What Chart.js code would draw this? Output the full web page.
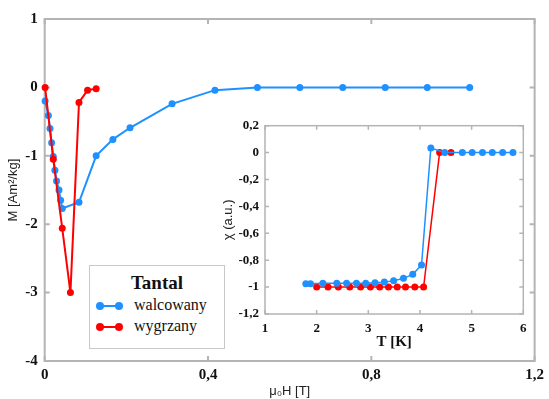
<!DOCTYPE html>
<html>
<head>
<meta charset="utf-8">
<script src="https://cdn.jsdelivr.net/npm/chart.js@4.4.1/dist/chart.umd.min.js"></script>
<style>
    html, body { margin: 0; padding: 0; background: #fff; }
    #wrap { position: relative; width: 549px; height: 399px; }
    #mainChart { position: absolute; left: 0; top: 0; }
    #insetChart { position: absolute; left: 215px; top: 110px; }
    #legend {
        position: absolute; left: 89px; top: 265px; width: 134px; height: 82px;
        border: 1.5px solid #c8c8c8; background: #fff;
        font-family: "Liberation Serif", serif; color: #111;
    }
    #legend .title { text-align: center; font-weight: bold; font-size: 19px; margin-top: 6px; height: 24px; }
    #legend .item { position: relative; height: 21px; font-size: 16px; }
    #legend .item span.txt { position: absolute; left: 44px; top: 0; }
    #legend .mk { position: absolute; left: 10px; top: 9px; width: 19px; height: 2px; }
    #legend .mk::before, #legend .mk::after {
        content: ""; position: absolute; top: -3px; width: 8px; height: 8px; border-radius: 50%; background: inherit;
    }
    #legend .mk::before { left: -4px; }
    #legend .mk::after { right: -4px; }
</style>
</head>
<body>
<div id="wrap">
    <canvas id="mainChart" width="549" height="399"></canvas>
    <canvas id="insetChart" width="320" height="245"></canvas>
    <div id="legend">
        <div class="title">Tantal</div>
        <div class="item"><div class="mk" style="background:#1e90ff"></div><span class="txt">walcowany</span></div>
        <div class="item"><div class="mk" style="background:#ff0000"></div><span class="txt">wygrzany</span></div>
    </div>
</div>
<script>
// Main plot: M(μ0H)
const walcH = [0.001, 0.009, 0.013, 0.017, 0.021, 0.025, 0.029, 0.035, 0.039, 0.043, 0.084, 0.126, 0.167, 0.209, 0.312, 0.417, 0.521, 0.625, 0.730, 0.834, 0.937, 1.041];
const walcM = [-0.2, -0.41, -0.60, -0.81, -1.01, -1.21, -1.37, -1.50, -1.65, -1.77, -1.68, -1.0, -0.76, -0.59, -0.24, -0.04, 0, 0, 0, 0, 0, 0];
const wygrH = [0.001, 0.021, 0.043, 0.063, 0.084, 0.105, 0.126];
const wygrM = [0, -1.05, -2.06, -3.0, -0.22, -0.04, -0.02];

// Inset: chi(T)
const walcT = [1.79, 1.88, 2.12, 2.39, 2.58, 2.77, 2.95, 3.13, 3.31, 3.49, 3.68, 3.86, 4.03, 4.21, 4.48, 4.82, 5.01, 5.21, 5.40, 5.60, 5.80];
const walcChi = [-0.975, -0.975, -0.972, -0.972, -0.972, -0.972, -0.972, -0.968, -0.963, -0.953, -0.935, -0.905, -0.836, 0.034, 0, 0, 0, 0, 0, 0, 0];
const wygrT = [2.0, 2.22, 2.42, 2.64, 2.85, 3.04, 3.22, 3.39, 3.56, 3.72, 3.90, 4.07, 4.38, 4.60];
const wygrChi = [-1, -1, -1, -1, -1, -1, -1, -1, -1, -1, -1, -1, 0, 0];

// Tick labels
const mainXLabels = ['0', '0,4', '0,8', '1,2'];
const mainYLabels = ['-4', '-3', '-2', '-1', '0', '1'];
const insetXLabels = ['1', '2', '3', '4', '5', '6'];
const insetYLabels = ['-1,2', '-1', '-0,8', '-0,6', '-0,4', '-0,2', '0', '0,2'];

const BLUE = '#1e90ff';
const RED = '#ff0000';

function toPoints(xs, ys) {
    return xs.map((x, i) => ({ x: x, y: ys[i] }));
}

// gray frame with inward ticks on all four sides
const framePlugin = {
    id: 'frame',
    beforeDatasetsDraw(chart, args, opts) {
        const { ctx, chartArea: a, scales: { x, y } } = chart;
        ctx.save();
        ctx.strokeStyle = opts.color;
        ctx.lineWidth = opts.width;
        ctx.strokeRect(a.left, a.top, a.right - a.left, a.bottom - a.top);
        ctx.beginPath();
        x.ticks.forEach(t => {
            const px = x.getPixelForValue(t.value);
            ctx.moveTo(px, a.bottom); ctx.lineTo(px, a.bottom - opts.len);
            ctx.moveTo(px, a.top); ctx.lineTo(px, a.top + opts.len);
        });
        y.ticks.forEach(t => {
            const py = y.getPixelForValue(t.value);
            ctx.moveTo(a.left, py); ctx.lineTo(a.left + opts.len, py);
            ctx.moveTo(a.right, py); ctx.lineTo(a.right - opts.len, py);
        });
        ctx.stroke();
        ctx.restore();
    }
};

const tickFont = (size) => ({ family: '"Liberation Serif", serif', weight: 'bold', size: size });
const titleFont = { family: '"Liberation Sans", Arial, sans-serif', size: 13 };

new Chart(document.getElementById('mainChart'), {
    type: 'scatter',
    data: {
        datasets: [
            {
                label: 'walcowany',
                data: toPoints(walcH, walcM),
                showLine: true,
                borderColor: BLUE, backgroundColor: BLUE,
                borderWidth: 2, pointRadius: 3.5, pointBorderWidth: 0,
                order: 1, clip: false
            },
            {
                label: 'wygrzany',
                data: toPoints(wygrH, wygrM),
                showLine: true,
                borderColor: RED, backgroundColor: RED,
                borderWidth: 2, pointRadius: 3.5, pointBorderWidth: 0,
                order: 0, clip: false
            }
        ]
    },
    options: {
        responsive: false,
        animation: false,
        layout: { padding: { top: 19, right: 11, left: 0, bottom: 0 } },
        plugins: {
            legend: { display: false },
            tooltip: { enabled: false },
            frame: { color: '#b4b4b4', width: 2, len: 5 }
        },
        scales: {
            x: {
                type: 'linear', min: 0, max: 1.2,
                grid: { display: false, drawTicks: false },
                border: { display: false },
                ticks: { stepSize: 0.4, padding: 5, color: '#111', font: tickFont(15),
                         callback: (v, i) => mainXLabels[i] },
                title: { display: true, text: 'μ₀H [T]', color: '#222', font: titleFont, padding: { top: 0, bottom: 0 } },
                afterFit: (s) => { s.height = 38; }
            },
            y: {
                type: 'linear', min: -4, max: 1,
                grid: { display: false, drawTicks: false },
                border: { display: false },
                ticks: { stepSize: 1, padding: 7, color: '#111', font: tickFont(15),
                         callback: (v, i) => mainYLabels[i] },
                title: { display: true, text: 'M [Am²/kg]', color: '#222', font: titleFont, padding: { top: 6, bottom: 0 } },
                afterFit: (s) => { s.width = 44.7; }
            }
        }
    },
    plugins: [framePlugin]
});

new Chart(document.getElementById('insetChart'), {
    type: 'scatter',
    data: {
        datasets: [
            {
                label: 'walcowany',
                data: toPoints(walcT, walcChi),
                showLine: true,
                borderColor: BLUE, backgroundColor: BLUE,
                borderWidth: 1.5, pointRadius: 3.5, pointBorderWidth: 0,
                order: 0, clip: false
            },
            {
                label: 'wygrzany',
                data: toPoints(wygrT, wygrChi),
                showLine: true,
                borderColor: RED, backgroundColor: RED,
                borderWidth: 1.5, pointRadius: 3.5, pointBorderWidth: 0,
                order: 1, clip: false
            }
        ]
    },
    options: {
        responsive: false,
        animation: false,
        layout: { padding: { top: 15.7, right: 11.7, left: 0, bottom: 0 } },
        plugins: {
            legend: { display: false },
            tooltip: { enabled: false },
            frame: { color: '#b4b4b4', width: 1.5, len: 4 }
        },
        scales: {
            x: {
                type: 'linear', min: 1, max: 6,
                grid: { display: false, drawTicks: false },
                border: { display: false },
                ticks: { stepSize: 1, padding: 7, color: '#111', font: tickFont(13),
                         callback: (v, i) => insetXLabels[i] },
                title: { display: true, text: 'T [K]', color: '#111', font: tickFont(15), padding: { top: 0, bottom: 4 } },
                afterFit: (s) => { s.height = 41; }
            },
            y: {
                type: 'linear', min: -1.2, max: 0.2,
                grid: { display: false, drawTicks: false },
                border: { display: false },
                ticks: { stepSize: 0.2, padding: 6, color: '#111', font: tickFont(13),
                         callback: (v, i) => insetYLabels[i] },
                title: { display: true, text: 'χ (a.u.)', color: '#222', font: titleFont, padding: { top: 6, bottom: 0 } },
                afterFit: (s) => { s.width = 50; }
            }
        }
    },
    plugins: [framePlugin]
});
</script>
</body>
</html>
